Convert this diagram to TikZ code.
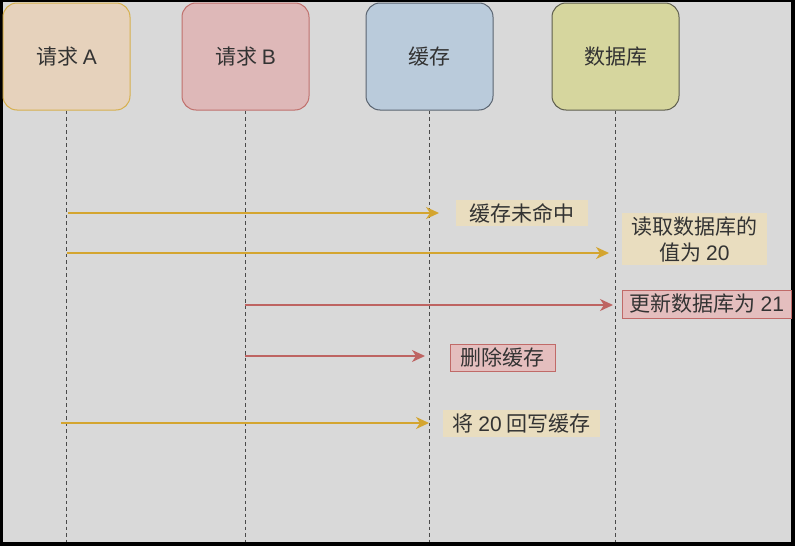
\documentclass[tikz,border=0pt]{standalone}
\usepackage{fontspec}
\setmainfont{Noto Sans CJK SC}
\newfontfamily\lat{Liberation Sans}
\usetikzlibrary{arrows.meta}
\definecolor{bg}{HTML}{D9D9D9}
\definecolor{txt}{HTML}{333333}
\definecolor{afill}{HTML}{E6D2BC}
\definecolor{adraw}{HTML}{D6B04E}
\definecolor{bfill}{HTML}{DEB8B8}
\definecolor{bdraw}{HTML}{C0706C}
\definecolor{cfill}{HTML}{BACBDB}
\definecolor{cdraw}{HTML}{5A6470}
\definecolor{dfill}{HTML}{D6D69E}
\definecolor{ddraw}{HTML}{5E5E4E}
\definecolor{gold}{HTML}{D4A530}
\definecolor{redl}{HTML}{BE6462}
\definecolor{tan}{HTML}{E9DDBF}
\definecolor{pink}{HTML}{E4BEBE}
\definecolor{pinkd}{HTML}{C06A68}
\definecolor{life}{HTML}{4A4A4A}
\begin{document}
\begin{tikzpicture}[x=1pt,y=-1pt,
  actor/.style={rounded corners=14pt,minimum width=127pt,minimum height=107pt,line width=1pt,font=\fontsize{21}{25}\selectfont,text=txt},
  lifeline/.style={life,line width=1.3pt,dash pattern=on 3.5pt off 3pt},
  msg/.style={line width=2pt,-{Stealth[length=13pt,width=12pt,inset=4pt]}},
  lbl/.style={inner sep=0pt,font=\fontsize{21}{26}\selectfont,text=txt,align=center}
]
\useasboundingbox (0,0) rectangle (795,546);
\fill[black] (0,0) rectangle (795,546);
\fill[bg] (3,2) rectangle (791,542);

\node[actor,fill=afill,draw=adraw] (A) at (66.5,56.5) {请求 {\lat A}};
\node[actor,fill=bfill,draw=bdraw] (B) at (245.5,56.5) {请求 {\lat B}};
\node[actor,fill=cfill,draw=cdraw] (C) at (429.5,56.5) {缓存};
\node[actor,fill=dfill,draw=ddraw] (D) at (615.5,56.5) {数据库};

\coordinate (Ae) at (66.5,542);
\coordinate (Be) at (245.5,542);
\coordinate (Ce) at (429.5,542);
\coordinate (De) at (615.5,542);
\draw[lifeline] (A.south) -- (Ae);
\draw[lifeline] (B.south) -- (Be);
\draw[lifeline] (C.south) -- (Ce);
\draw[lifeline] (D.south) -- (De);

% messages
\coordinate (m1s) at (68,213); \coordinate (m1e) at (439,213);
\coordinate (m2s) at (67,253); \coordinate (m2e) at (609,253);
\coordinate (m3s) at (245,305); \coordinate (m3e) at (613,305);
\coordinate (m4s) at (245,356); \coordinate (m4e) at (425,356);
\coordinate (m5s) at (61,423); \coordinate (m5e) at (429,423);
\draw[msg,gold] (m1s) -- (m1e);
\draw[msg,gold] (m2s) -- (m2e);
\draw[msg,redl] (m3s) -- (m3e);
\draw[msg,redl] (m4s) -- (m4e);
\draw[msg,gold] (m5s) -- (m5e);

% labels
\node[lbl,fill=tan,minimum width=132pt,minimum height=26pt] (L1) at (522,213) {缓存未命中};
\node[lbl,fill=tan,minimum width=145pt,minimum height=52pt] (L2) at (694.5,239) {读取数据库的\\值为 {\lat 20}};
\node[lbl,fill=pink,draw=pinkd,line width=1pt,minimum width=169pt,minimum height=28pt] (L3) at (707,304) {更新数据库为 {\lat 21}};
\node[lbl,fill=pink,draw=pinkd,line width=1pt,minimum width=105pt,minimum height=27pt] (L4) at (502.5,357.5) {删除缓存};
\node[lbl,fill=tan,minimum width=157pt,minimum height=27pt] (L5) at (521.5,423.5) {将 {\lat 20} 回写缓存};
\end{tikzpicture}
\end{document}
